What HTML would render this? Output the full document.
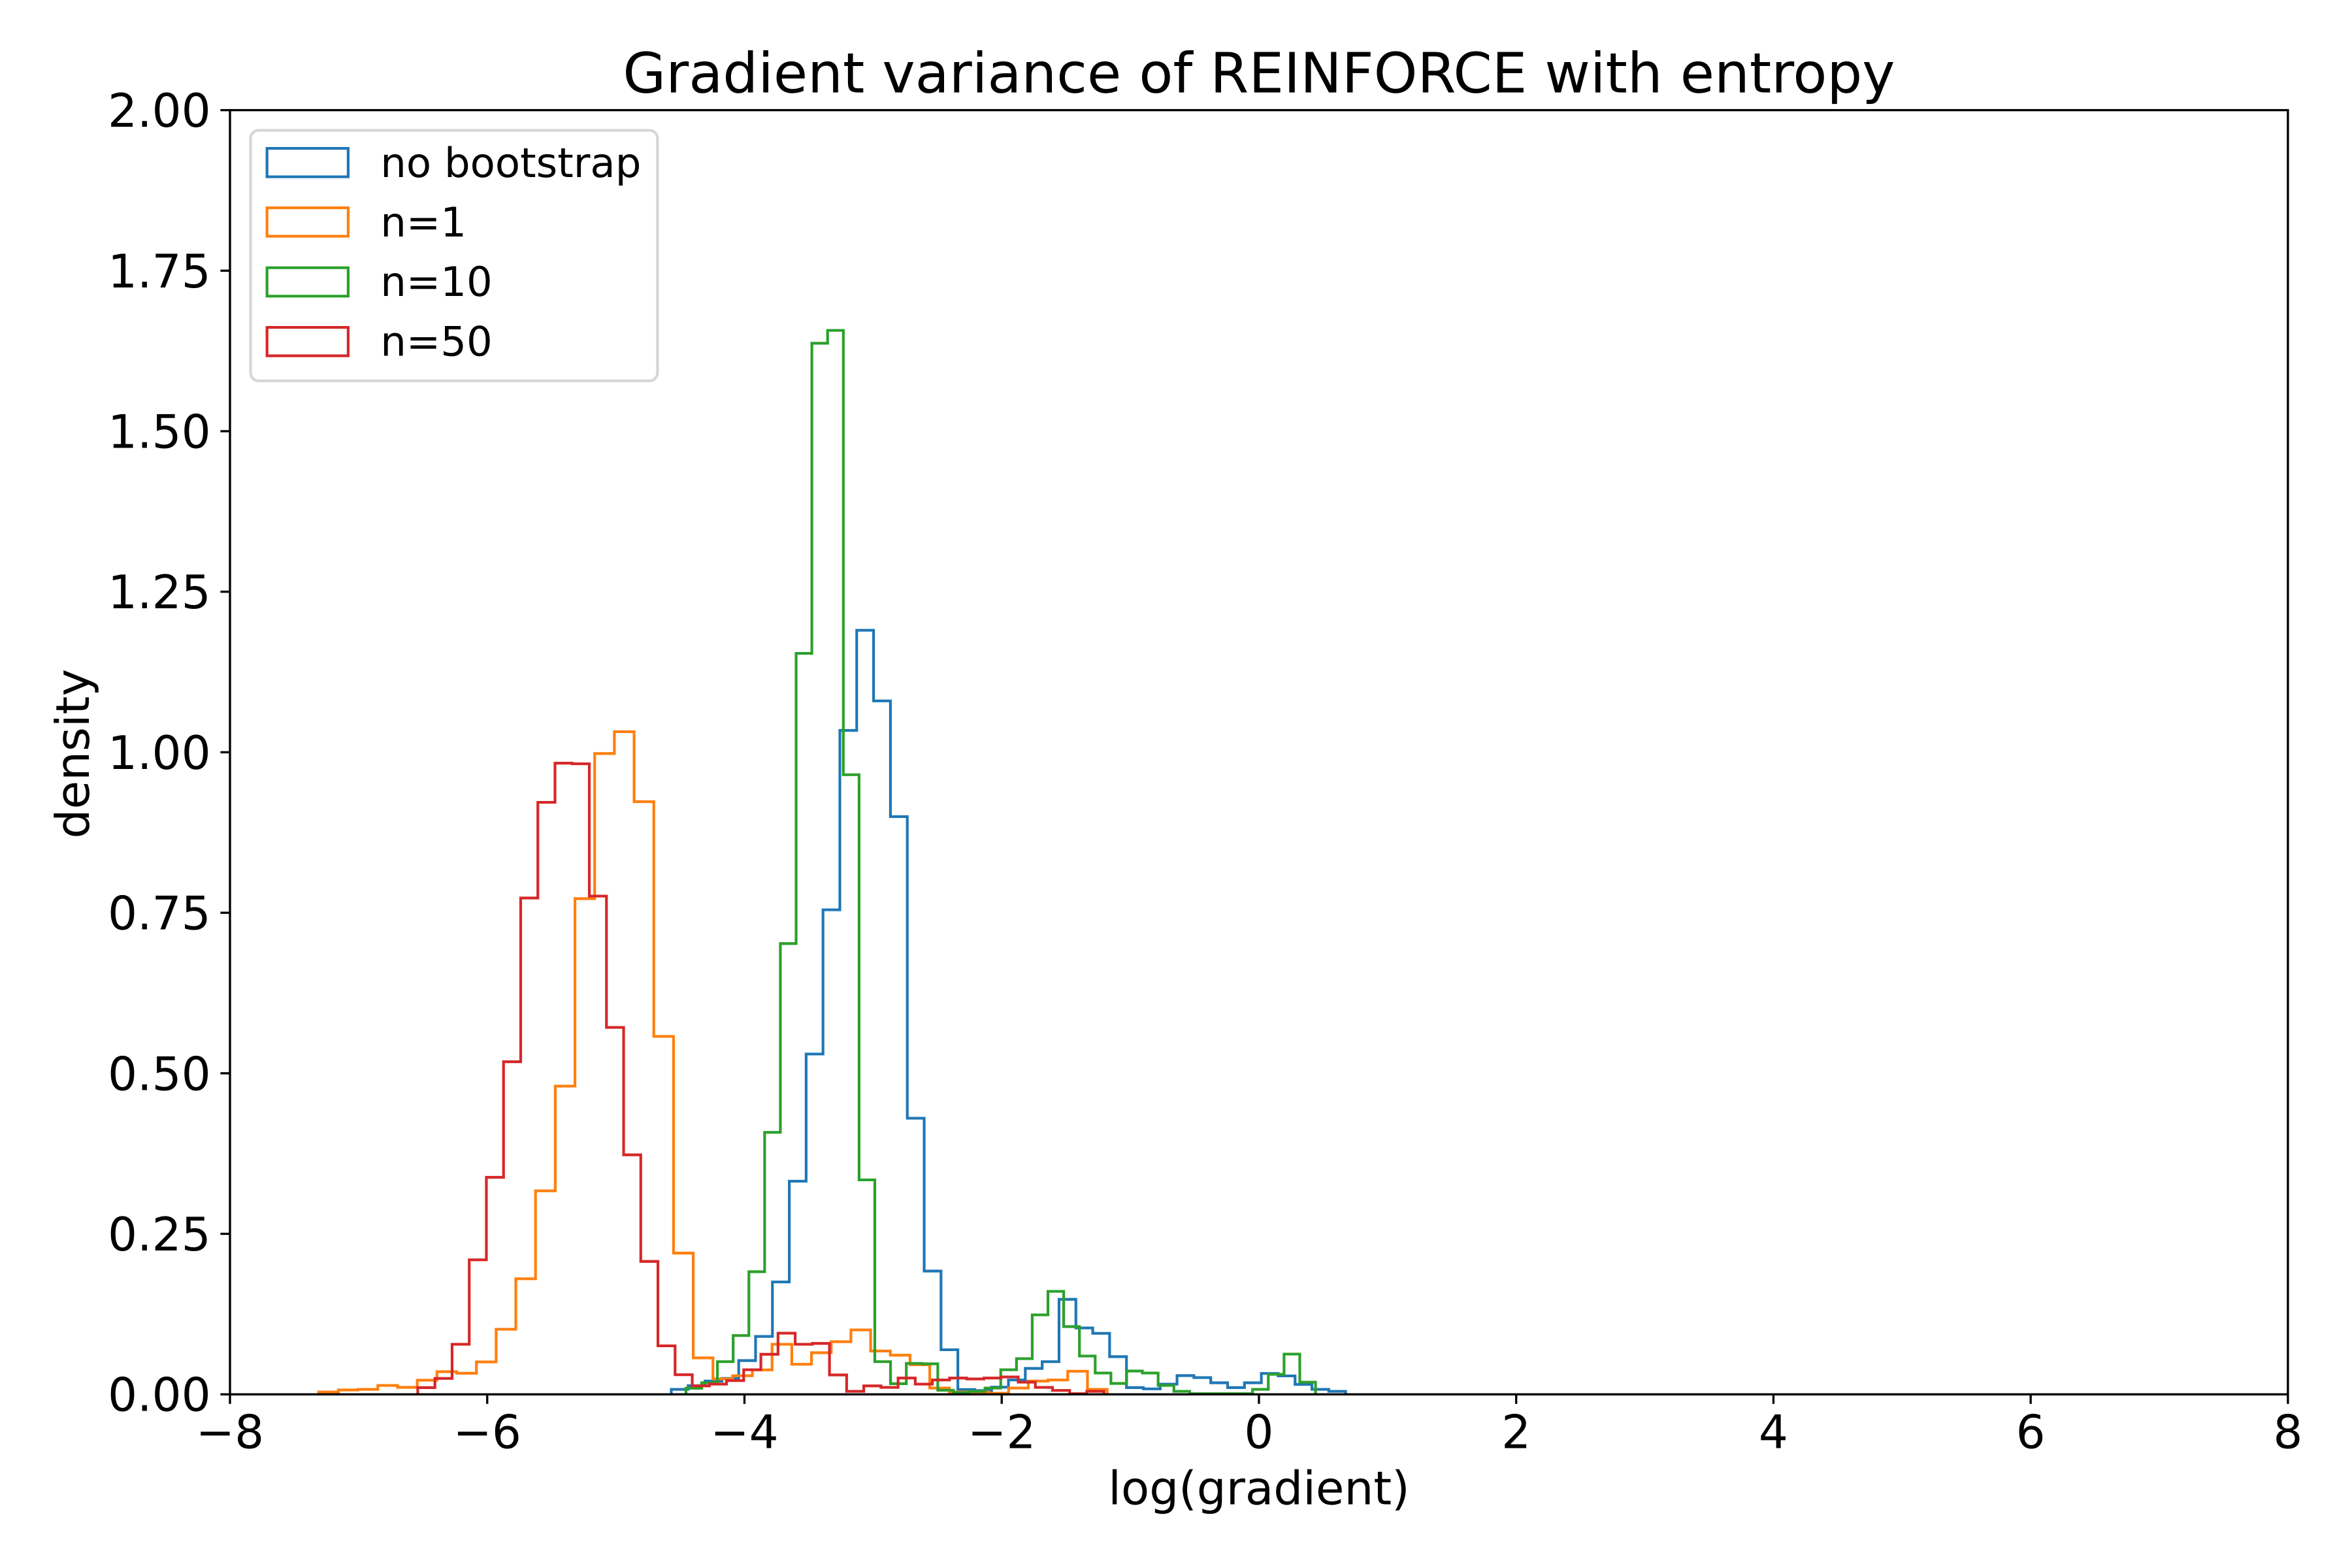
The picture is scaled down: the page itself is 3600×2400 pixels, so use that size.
<!DOCTYPE html>
<html lang="en">
<head>
<meta charset="utf-8">
<title>Gradient variance of REINFORCE with entropy</title>
<style>
html,body{margin:0;padding:0;background:#fff;width:3600px;height:2400px;overflow:hidden}
svg{display:block}
text{font-family:"DejaVu Sans","Liberation Sans",sans-serif;fill:#000;text-rendering:geometricPrecision}
</style>
</head>
<body>
<svg id="chart" xmlns="http://www.w3.org/2000/svg" width="3600" height="2400" viewBox="0 0 3600 2400">
  <rect x="0" y="0" width="3600" height="2400" fill="#fff"/>
  <text x="1927" y="141.7" font-size="85" text-anchor="middle">Gradient variance of REINFORCE with entropy</text>
  <text x="1927" y="2302.7" font-size="70.83" text-anchor="middle">log(gradient)</text>
  <text x="0" y="0" font-size="70.83" text-anchor="middle" transform="translate(136 1153.6) rotate(-90)">density</text>
  <g id="series-layer"></g>
  <g id="tick-layer"></g>
  <rect x="352" y="168.6" width="3149.9" height="1965.6" fill="none" stroke="#000" stroke-width="3.33"/>
  <g>
    <rect x="383.5" y="199.4" width="622.9" height="383.5" rx="12.5" ry="12.5" fill="#fff" fill-opacity="0.8" stroke="#cccccc" stroke-opacity="0.8" stroke-width="4.17"/>
    <g>
      <rect x="408.7" y="227.1" width="124.2" height="43.5" fill="none" stroke="#1f77b4" stroke-width="4.17"/>
      <text x="582.3" y="271" font-size="62.5">no bootstrap</text>
    </g>
    <g>
      <rect x="408.7" y="318.1" width="124.2" height="43.5" fill="none" stroke="#ff7f0e" stroke-width="4.17"/>
      <text x="582.3" y="362" font-size="62.5">n=1</text>
    </g>
    <g>
      <rect x="408.7" y="409.8" width="124.2" height="43.5" fill="none" stroke="#2ca02c" stroke-width="4.17"/>
      <text x="582.3" y="453" font-size="62.5">n=10</text>
    </g>
    <g>
      <rect x="408.7" y="501.1" width="124.2" height="43.5" fill="none" stroke="#d62728" stroke-width="4.17"/>
      <text x="582.3" y="544.5" font-size="62.5">n=50</text>
    </g>
  </g>
</svg>
<script>
const seriesNames = ['no-bootstrap', 'n1', 'n10', 'n50'];
const seriesColors = ['#1f77b4', '#ff7f0e', '#2ca02c', '#d62728'];
const binStarts = [-4.569, -7.31, -4.455, -6.54];
const binEnds = [0.674, -1.18, 0.44, -1.205];
const noBootstrap = [0.0078,0.0135,0.0207,0.0248,0.0526,0.0902,0.175,0.332,0.53,0.7546,1.034,1.19,1.08,0.8997,0.43,0.192,0.0695,0.0075,0.0058,0.0112,0.0224,0.0404,0.0509,0.148,0.1034,0.095,0.0587,0.0105,0.0085,0.0159,0.0292,0.0261,0.018,0.0105,0.018,0.0326,0.0288,0.0156,0.0078,0.0047];
const nOne = [0.0037,0.0068,0.0078,0.0139,0.0109,0.022,0.0353,0.0329,0.0505,0.1014,0.18,0.317,0.48,0.772,0.998,1.032,0.923,0.5575,0.22,0.0568,0.024,0.029,0.038,0.078,0.0468,0.0648,0.082,0.1004,0.0675,0.061,0.0461,0.0098,0.0037,0.0037,0.0017,0.0098,0.0207,0.0224,0.036,0.0078];
const nTen = [0.0095,0.018,0.0509,0.0916,0.191,0.408,0.702,1.154,1.637,1.657,0.965,0.334,0.0509,0.0166,0.0482,0.0475,0.0064,0.0027,0.0047,0.0098,0.0383,0.0556,0.1238,0.1604,0.1055,0.0597,0.0332,0.017,0.0363,0.0332,0.0139,0.0047,0.001,0.001,0.001,0.001,0.0078,0.0312,0.0627,0.019];
const nFifty = [0.0105,0.0248,0.078,0.2095,0.338,0.518,0.773,0.922,0.983,0.982,0.776,0.5715,0.373,0.207,0.0756,0.0305,0.0132,0.016,0.0214,0.0383,0.0624,0.0953,0.078,0.0793,0.0302,0.0047,0.0132,0.0108,0.0254,0.0159,0.0224,0.0254,0.024,0.0254,0.0271,0.019,0.0108,0.0061,0.001,0.0047];
const xTickValues = [-8, -6, -4, -2, 0, 2, 4, 6, 8];
const xTickLabels = ['\u22128', '\u22126', '\u22124', '\u22122', '0', '2', '4', '6', '8'];
const yTickValues = [0, 0.25, 0.5, 0.75, 1, 1.25, 1.5, 1.75, 2];
const yTickLabels = ['0.00', '0.25', '0.50', '0.75', '1.00', '1.25', '1.50', '1.75', '2.00'];

const SVG_NS = 'http://www.w3.org/2000/svg';
const plotLeft = 352, plotRight = 3501.9, plotTop = 168.6, plotBottom = 2134.2;
const xMin = -8, xMax = 8, yMin = 0, yMax = 2;
function xScale(v) { return plotLeft + (v - xMin) / (xMax - xMin) * (plotRight - plotLeft); }
function yScale(v) { return plotBottom - (v - yMin) / (yMax - yMin) * (plotBottom - plotTop); }

const allSeries = [noBootstrap, nOne, nTen, nFifty];
const seriesLayer = document.getElementById('series-layer');
allSeries.forEach(function (values, s) {
  const width = (binEnds[s] - binStarts[s]) / values.length;
  let d = 'M' + xScale(binStarts[s]).toFixed(2) + ' ' + yScale(0).toFixed(2);
  values.forEach(function (v, i) {
    const y = yScale(v).toFixed(2);
    d += 'L' + xScale(binStarts[s] + i * width).toFixed(2) + ' ' + y;
    d += 'L' + xScale(binStarts[s] + (i + 1) * width).toFixed(2) + ' ' + y;
  });
  d += 'L' + xScale(binEnds[s]).toFixed(2) + ' ' + yScale(0).toFixed(2);
  const path = document.createElementNS(SVG_NS, 'path');
  path.setAttribute('d', d);
  path.setAttribute('fill', 'none');
  path.setAttribute('stroke', seriesColors[s]);
  path.setAttribute('stroke-width', '4.17');
  path.setAttribute('stroke-linejoin', 'miter');
  
  
  seriesLayer.appendChild(path);
});

const tickLayer = document.getElementById('tick-layer');
xTickValues.forEach(function (v, i) {
  const x = xScale(v);
  const tick = document.createElementNS(SVG_NS, 'line');
  tick.setAttribute('x1', x);
  tick.setAttribute('x2', x);
  tick.setAttribute('y1', plotBottom);
  tick.setAttribute('y2', plotBottom + 14.6);
  tick.setAttribute('stroke', '#000');
  tick.setAttribute('stroke-width', '3.33');
  
  
  tickLayer.appendChild(tick);
  const label = document.createElementNS(SVG_NS, 'text');
  label.setAttribute('x', x);
  label.setAttribute('y', 2216.7);
  label.setAttribute('font-size', '70.83');
  label.setAttribute('text-anchor', 'middle');
  label.textContent = xTickLabels[i];
  
  
  tickLayer.appendChild(label);
});
yTickValues.forEach(function (v, i) {
  const y = yScale(v);
  const tick = document.createElementNS(SVG_NS, 'line');
  tick.setAttribute('x1', plotLeft - 14.6);
  tick.setAttribute('x2', plotLeft);
  tick.setAttribute('y1', y);
  tick.setAttribute('y2', y);
  tick.setAttribute('stroke', '#000');
  tick.setAttribute('stroke-width', '3.33');
  
  
  tickLayer.appendChild(tick);
  const label = document.createElementNS(SVG_NS, 'text');
  label.setAttribute('x', 322.7);
  label.setAttribute('y', y + 25.5);
  label.setAttribute('font-size', '70.83');
  label.setAttribute('text-anchor', 'end');
  label.textContent = yTickLabels[i];
  
  
  tickLayer.appendChild(label);
});
</script>
</body>
</html>
